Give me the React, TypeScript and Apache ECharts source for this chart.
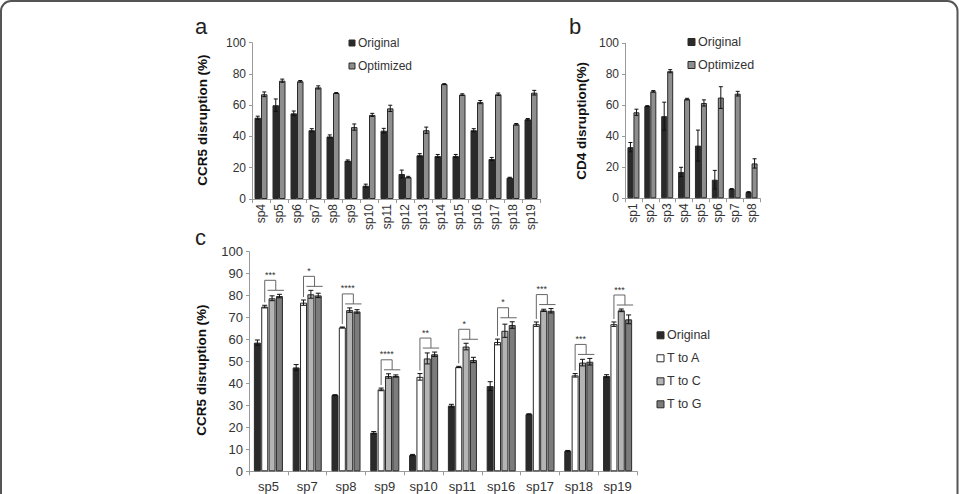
import React, { useEffect, useRef } from 'react';
import * as echarts from 'echarts';

// ---------- Panel a ----------
const catsA = ['sp4', 'sp5', 'sp6', 'sp7', 'sp8', 'sp9', 'sp10', 'sp11', 'sp12', 'sp13', 'sp14', 'sp15', 'sp16', 'sp17', 'sp18', 'sp19'];
const origA = [52, 60, 54.8, 44, 40, 24.5, 8.5, 43.7, 16, 28, 27.5, 27.5, 44, 25.6, 13.6, 51];
const origAErr = [1, 4, 1.5, 1, 1, 0.5, 1, 1.5, 2.5, 1, 1, 1, 1, 1, 0.3, 0.5];
const optA = [67, 75.7, 75.3, 71.4, 67.8, 46, 53.8, 58, 14, 44, 73.5, 66.8, 62, 67, 47.8, 68];
const optAErr = [1.5, 1, 0.5, 1, 0.3, 2, 1, 2, 0.5, 2, 0.3, 0.5, 1, 0.8, 0.5, 1.5];

// ---------- Panel b ----------
const catsB = ['sp1', 'sp2', 'sp3', 'sp4', 'sp5', 'sp6', 'sp7', 'sp8'];
const origB = [33, 59.5, 53, 17, 34, 12, 6, 4];
const origBErr = [3, 0.3, 9, 3, 10, 6, 0.3, 0.3];
const optB = [55.5, 69, 82, 64, 61.5, 65, 67.5, 22.5];
const optBErr = [2, 0.5, 1, 0.5, 2, 7, 1.5, 3];

// ---------- Panel c ----------
const catsC = ['sp5', 'sp7', 'sp8', 'sp9', 'sp10', 'sp11', 'sp16', 'sp17', 'sp18', 'sp19'];
const origC = [58.6, 47.3, 34.7, 17.6, 7.4, 29.9, 38.8, 26, 9.3, 43.4];
const origCErr = [1.2, 1.3, 0.2, 0.5, 0.3, 0.6, 2, 0.2, 0.2, 0.6];
const toA = [75, 76.8, 65.5, 37.3, 43, 47.5, 58.9, 67, 43.7, 67];
const toAErr = [0.6, 1.2, 0.2, 0.6, 1.5, 0.3, 1.3, 1, 0.8, 1];
const toC = [78.8, 80.6, 73.4, 43.4, 51.4, 56.8, 64, 73.3, 49.5, 73.3];
const toCErr = [1.1, 1.8, 1, 1, 2.5, 1.5, 3, 0.5, 1.5, 0.6];
const toG = [79.8, 80.1, 72.8, 43.4, 53.3, 50.7, 66.6, 73.1, 49.9, 69.2];
const toGErr = [0.8, 1, 0.8, 0.5, 1, 1.2, 1.5, 1, 1.5, 2];
const sigC = ['***', '*', '****', '****', '**', '*', '*', '***', '***', '***'];

const FONT = "'Liberation Sans', Arial, Helvetica, sans-serif";
const COL_ORIG = '#2a2a2a';
const COL_OPT = '#8e8e8e';
const COL_A = '#ffffff';
const COL_C = '#b4b4b4';
const COL_G = '#7c7c7c';
const EDGE = '#2a2a2a';
const AXIS = '#9a9a9a';

function offsets(n: number, bw: number, gapFrac: number) {
  const total = n * bw + (n - 1) * gapFrac * bw;
  return Array.from({ length: n }, (_, i) => -total / 2 + i * bw * (1 + gapFrac) + bw / 2);
}

function errSeries(axis: number, vals: number[], errs: number[], off: number, capW: number) {
  return {
    type: 'custom',
    xAxisIndex: axis,
    yAxisIndex: axis,
    z: 5,
    silent: true,
    data: vals.map((v, i) => [i, v, errs[i]]),
    encode: { x: 0, y: 1 },
    renderItem: (params: any, api: any) => {
      const ci = api.value(0);
      const v = api.value(1);
      const e = api.value(2);
      const hi = api.coord([ci, v + e]);
      const lo = api.coord([ci, v - e]);
      const x = hi[0] + off;
      const st = { stroke: '#111', lineWidth: 1 };
      return {
        type: 'group',
        children: [
          { type: 'line', shape: { x1: x, y1: lo[1], x2: x, y2: hi[1] }, style: st },
          { type: 'line', shape: { x1: x - capW / 2, y1: hi[1], x2: x + capW / 2, y2: hi[1] }, style: st },
          { type: 'line', shape: { x1: x - capW / 2, y1: lo[1], x2: x + capW / 2, y2: lo[1] }, style: st },
        ],
      };
    },
  };
}

function barSeries(name: string, axis: number, data: number[], color: string, bw: number, gap: string) {
  return {
    name,
    type: 'bar',
    xAxisIndex: axis,
    yAxisIndex: axis,
    data,
    barWidth: bw,
    barGap: gap,
    itemStyle: { color, borderColor: EDGE, borderWidth: 1 },
    silent: true,
  };
}

function xAxisBase(grid: number, cats: string[], rotate: number, fs: number, margin: number) {
  return {
    type: 'category',
    gridIndex: grid,
    data: cats,
    boundaryGap: true,
    axisLine: { show: true, lineStyle: { color: AXIS, width: 1 } },
    axisTick: { show: true, length: 4, lineStyle: { color: AXIS } },
    axisLabel: { rotate, fontSize: fs, margin, color: '#333', fontFamily: FONT, interval: 0 },
    splitLine: { show: false },
  };
}

function yAxisBase(grid: number, interval: number, fs: number) {
  return {
    type: 'value',
    gridIndex: grid,
    min: 0,
    max: 100,
    interval,
    axisLine: { show: true, lineStyle: { color: AXIS, width: 1 } },
    axisTick: { show: true, length: 3, lineStyle: { color: AXIS } },
    axisLabel: { fontSize: fs, margin: 6, color: '#333', fontFamily: FONT },
    splitLine: { show: false },
  };
}

function legendItems(x: number, y0: number, step: number, size: number, fs: number, items: { label: string; color: string }[]) {
  const out: any[] = [];
  items.forEach((it, i) => {
    const cy = y0 + i * step;
    out.push({
      type: 'rect',
      shape: { x: x, y: cy - size / 2, width: size, height: size },
      style: { fill: it.color, stroke: EDGE, lineWidth: 1 },
    });
    out.push({
      type: 'text',
      x: x + size + 3,
      y: cy,
      style: { text: it.label, fill: '#333', font: `${fs}px ${FONT}`, align: 'left', verticalAlign: 'middle' },
    });
  });
  return out;
}

export default function App() {
  const ref = useRef<HTMLDivElement>(null);
  useEffect(() => {
    document.body.style.margin = '0';
    if (!ref.current) return;
    const chart = echarts.init(ref.current, undefined, { renderer: 'svg' });

    const bwA = 6.5, bwB = 6, bwC = 7;
    const offA = offsets(2, bwA, 0);
    const offB = offsets(2, bwB, 0);
    const offC = offsets(4, bwC, 0.05);

    const bracketSeries = {
      type: 'custom',
      xAxisIndex: 2,
      yAxisIndex: 2,
      z: 6,
      silent: true,
      data: catsC.map((_, i) => [i, toC[i]]),
      encode: { x: 0, y: 1 },
      renderItem: (params: any, api: any) => {
        const ci = api.value(0);
        const i = ci;
        const c0 = api.coord([ci, 0]);
        const cx = c0[0];
        const xA = cx + offC[1];
        const xM = cx + (offC[2] + offC[3]) / 2;
        const xCl = cx + offC[2] - bwC / 2 - 1;
        const xGr = cx + offC[3] + bwC / 2 + 1;
        const topVal = Math.max(toA[i] + toAErr[i], toC[i] + toCErr[i], toG[i] + toGErr[i]);
        const rightVal = Math.max(toC[i] + toCErr[i], toG[i] + toGErr[i]);
        const yTop = api.coord([ci, topVal])[1] - 14;
        const yA = api.coord([ci, toA[i] + toAErr[i]])[1] - 3;
        const yR = api.coord([ci, rightVal])[1] - 4;
        const st = { stroke: '#666', lineWidth: 1, fill: 'none' };
        return {
          type: 'group',
          children: [
            { type: 'polyline', shape: { points: [[xA, yA], [xA, yTop], [xM, yTop], [xM, yR]] }, style: st },
            { type: 'line', shape: { x1: xCl, y1: yR, x2: xGr, y2: yR }, style: st },
            {
              type: 'text',
              x: (xA + xM) / 2,
              y: yTop - 1,
              style: { text: sigC[i], fill: '#333', font: `9px ${FONT}`, align: 'center', verticalAlign: 'bottom' },
            },
          ],
        };
      },
    };

    const option: any = {
      animation: false,
      backgroundColor: '#fff',
      textStyle: { fontFamily: FONT },
      grid: [
        { left: 252, top: 42.7, width: 288, height: 156.3, containLabel: false },
        { left: 625, top: 43.3, width: 135, height: 155, containLabel: false },
        { left: 249, top: 251.7, width: 388, height: 219.6, containLabel: false },
      ],
      xAxis: [
        xAxisBase(0, catsA, 90, 12, 5),
        xAxisBase(1, catsB, 90, 12, 5),
        xAxisBase(2, catsC, 0, 13, 9),
      ],
      yAxis: [yAxisBase(0, 20, 12), yAxisBase(1, 20, 12), yAxisBase(2, 10, 13)],
      series: [
        barSeries('Original', 0, origA, COL_ORIG, bwA, '0%'),
        barSeries('Optimized', 0, optA, COL_OPT, bwA, '0%'),
        errSeries(0, origA, origAErr, offA[0], 4),
        errSeries(0, optA, optAErr, offA[1], 4),

        barSeries('Original', 1, origB, COL_ORIG, bwB, '0%'),
        barSeries('Optimized', 1, optB, COL_OPT, bwB, '0%'),
        errSeries(1, origB, origBErr, offB[0], 4),
        errSeries(1, optB, optBErr, offB[1], 4),

        barSeries('Original', 2, origC, COL_ORIG, bwC, '5%'),
        barSeries('T to A', 2, toA, COL_A, bwC, '5%'),
        barSeries('T to C', 2, toC, COL_C, bwC, '5%'),
        barSeries('T to G', 2, toG, COL_G, bwC, '5%'),
        errSeries(2, origC, origCErr, offC[0], 5),
        errSeries(2, toA, toAErr, offC[1], 5),
        errSeries(2, toC, toCErr, offC[2], 5),
        errSeries(2, toG, toGErr, offC[3], 5),
        bracketSeries,
      ],
      graphic: [
        {
          type: 'rect',
          shape: { x: 1, y: 1, width: 956.5, height: 620, r: 10 },
          style: { fill: 'none', stroke: '#555', lineWidth: 2 },
          silent: true,
        },
        { type: 'text', x: 195, y: 26.3, style: { text: 'a', fill: '#222', font: `22px ${FONT}`, align: 'left', verticalAlign: 'middle' } },
        { type: 'text', x: 569, y: 26.3, style: { text: 'b', fill: '#222', font: `22px ${FONT}`, align: 'left', verticalAlign: 'middle' } },
        { type: 'text', x: 195, y: 237.3, style: { text: 'c', fill: '#222', font: `22px ${FONT}`, align: 'left', verticalAlign: 'middle' } },
        {
          type: 'text', x: 202, y: 120, rotation: Math.PI / 2,
          style: { text: 'CCR5 disruption (%)', fill: '#111', font: `bold 13.5px ${FONT}`, align: 'center', verticalAlign: 'middle' },
        },
        {
          type: 'text', x: 581.7, y: 120.8, rotation: Math.PI / 2,
          style: { text: 'CD4 disruption(%)', fill: '#111', font: `bold 13.5px ${FONT}`, align: 'center', verticalAlign: 'middle' },
        },
        {
          type: 'text', x: 201.7, y: 370, rotation: Math.PI / 2,
          style: { text: 'CCR5 disruption (%)', fill: '#111', font: `bold 13.5px ${FONT}`, align: 'center', verticalAlign: 'middle' },
        },
        ...legendItems(349, 43, 23, 6, 12, [
          { label: 'Original', color: COL_ORIG },
          { label: 'Optimized', color: COL_OPT },
        ]),
        ...legendItems(688, 42, 23, 7, 12.5, [
          { label: 'Original', color: COL_ORIG },
          { label: 'Optimized', color: COL_OPT },
        ]),
        ...legendItems(657, 335.3, 23, 7, 12.5, [
          { label: 'Original', color: COL_ORIG },
          { label: 'T to A', color: COL_A },
          { label: 'T to C', color: COL_C },
          { label: 'T to G', color: COL_G },
        ]),
      ],
    };

    chart.setOption(option);
    return () => chart.dispose();
  }, []);

  return <div ref={ref} style={{ width: 959, height: 494 }} />;
}
